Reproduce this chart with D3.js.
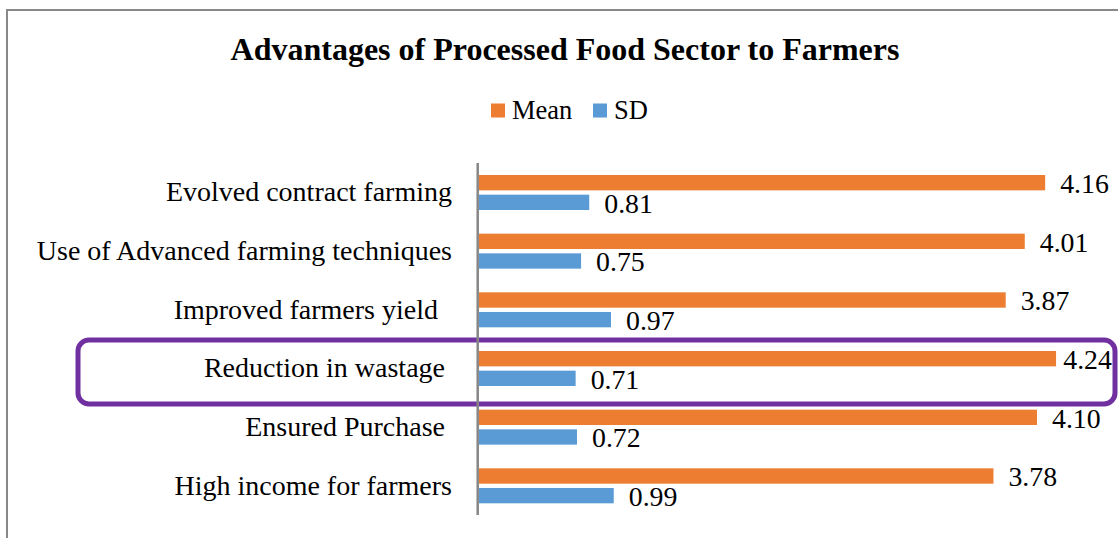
<!DOCTYPE html>
<html>
<head>
<meta charset="utf-8">
<script src="https://cdnjs.cloudflare.com/ajax/libs/d3/7.8.5/d3.min.js"></script>
<style>
  html, body { margin: 0; padding: 0; background: #ffffff; }
  svg { display: block; }
  text { font-family: "Liberation Serif", "Times New Roman", serif; fill: #000; }
</style>
</head>
<body>
<svg id="chart" width="1118" height="538"></svg>
<script>
// Survey results: perceived advantages of the processed food sector to farmers
const categories = [
  "Evolved contract farming",
  "Use of Advanced farming techniques",
  "Improved farmers yield  ",
  "Reduction in wastage ",
  "Ensured Purchase ",
  "High income for farmers"
];
const meanValues = [4.16, 4.01, 3.87, 4.24, 4.10, 3.78];
const sdValues   = [0.81, 0.75, 0.97, 0.71, 0.72, 0.99];
const seriesNames = ["Mean", "SD"];
const seriesColors = ["#ED7D31", "#5B9BD5"];
const highlighted = "Reduction in wastage ";

const svg = d3.select("#chart");

// chart frame
svg.append("rect")
  .attr("x", 7).attr("y", 10)
  .attr("width", 1300).attr("height", 700)
  .attr("fill", "#fff")
  .attr("stroke", "#898989")
  .attr("stroke-width", 2);

// title
svg.append("text")
  .attr("x", 565).attr("y", 60)
  .attr("text-anchor", "middle")
  .attr("font-size", 32)
  .attr("font-weight", "bold")
  .text("Advantages of Processed Food Sector to Farmers");

// legend
const legend = svg.append("g");
const legendItems = [
  { name: seriesNames[0], color: seriesColors[0], x: 491 },
  { name: seriesNames[1], color: seriesColors[1], x: 593 }
];
legendItems.forEach(it => {
  legend.append("rect")
    .attr("x", it.x).attr("y", 103.5)
    .attr("width", 14).attr("height", 14)
    .attr("fill", it.color);
  legend.append("text")
    .attr("x", it.x + 21).attr("y", 119)
    .attr("font-size", 26.5)
    .text(it.name);
});

// scales
const x = d3.scaleLinear().domain([0, 4.5]).range([479, 479 + 4.5 * 136.1]);
const y = d3.scaleBand().domain(categories).range([163, 515]).paddingInner(0).paddingOuter(0);
const ySub = d3.scaleBand().domain(seriesNames).range([12, 47]).paddingInner(0.22);

const rows = categories.map((c, i) => ({
  cat: c,
  values: [
    { series: seriesNames[0], value: meanValues[i], color: seriesColors[0] },
    { series: seriesNames[1], value: sdValues[i], color: seriesColors[1] }
  ]
}));

// highlight around one category
svg.append("rect")
  .attr("x", 78)
  .attr("y", y(highlighted) + 1)
  .attr("width", 1037)
  .attr("height", 64)
  .attr("rx", 11).attr("ry", 11)
  .attr("fill", "none")
  .attr("stroke", "#7030A0")
  .attr("stroke-width", 5);

// category labels
svg.append("g")
  .selectAll("text")
  .data(categories)
  .join("text")
  .attr("x", 452)
  .attr("y", d => y(d) + y.bandwidth() / 2 + 9)
  .attr("text-anchor", "end")
  .attr("font-size", 28)
  .style("white-space", "pre")
  .text(d => d);

// bars
const groups = svg.append("g")
  .selectAll("g")
  .data(rows)
  .join("g")
  .attr("transform", d => `translate(0,${y(d.cat)})`);

groups.selectAll("rect")
  .data(d => d.values)
  .join("rect")
  .attr("x", x(0))
  .attr("y", d => ySub(d.series))
  .attr("width", d => x(d.value) - x(0))
  .attr("height", ySub.bandwidth())
  .attr("fill", d => d.color);

// value labels
const rightLimit = 1112;
groups.selectAll("text")
  .data(d => d.values)
  .join("text")
  .attr("x", d => x(d.value) + 15)
  .attr("y", d => ySub(d.series) + ySub.bandwidth() / 2 + 10.5)
  .attr("font-size", 27.8)
  .text(d => d.value.toFixed(2))
  .each(function () {
    const bb = this.getBBox();
    if (bb.x + bb.width > rightLimit) {
      d3.select(this).attr("x", rightLimit - bb.width);
    }
  });

// vertical category axis line
svg.append("line")
  .attr("x1", 477.7).attr("x2", 477.7)
  .attr("y1", y.range()[0]).attr("y2", y.range()[1])
  .attr("stroke", "#868686")
  .attr("stroke-width", 2.5);
</script>
</body>
</html>
